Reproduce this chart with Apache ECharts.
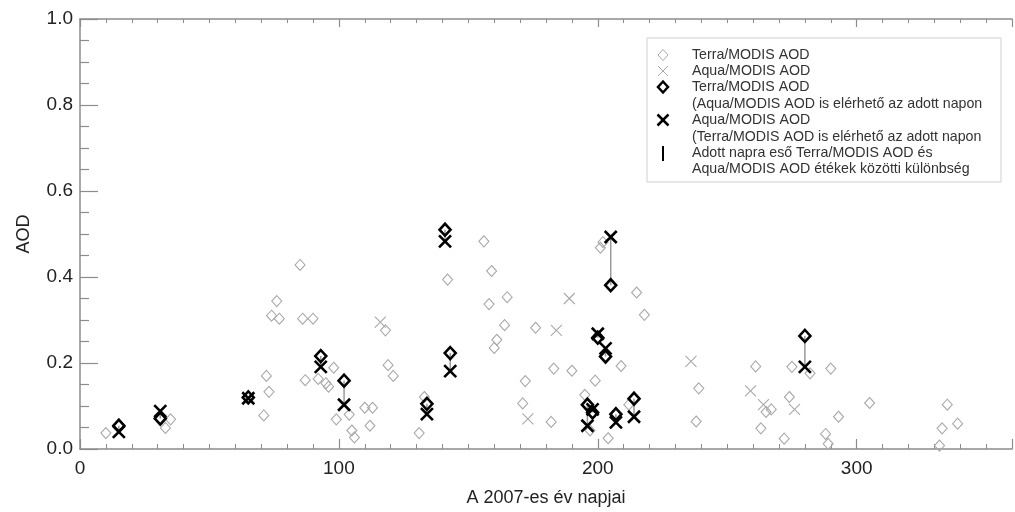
<!DOCTYPE html>
<html>
<head>
<meta charset="utf-8">
<script src="https://cdn.jsdelivr.net/npm/echarts@6/dist/echarts.min.js"></script>
<style>
  html, body { margin: 0; padding: 0; background: #fff; }
  #chart { width: 1015px; height: 512px; }
</style>
</head>
<body>
<div id="chart"></div>
<script>
// Day of year 2007 and AOD for days with only a Terra/MODIS retrieval
const terraOnlyDays = [10, 33, 35, 71, 73, 72, 74, 76, 77, 85, 86, 90, 87, 92, 95, 96, 98, 99, 104, 105, 106, 110, 113, 112, 118, 119, 121, 131, 133, 142, 156, 159, 158, 165, 164, 161, 160, 176, 172, 171, 183, 182, 190, 199, 195, 201, 202, 215, 218, 209, 204, 212, 197, 239, 238, 261, 265, 267, 263, 272, 274, 275, 282, 290, 293, 288, 289, 305, 335, 333, 339, 332];
const terraOnlyAod = [0.037, 0.049, 0.069, 0.078, 0.133, 0.170, 0.310, 0.344, 0.303, 0.428, 0.303, 0.303, 0.160, 0.163, 0.153, 0.145, 0.189, 0.069, 0.080, 0.043, 0.027, 0.096, 0.096, 0.054, 0.276, 0.195, 0.170, 0.037, 0.121, 0.394, 0.483, 0.414, 0.337, 0.353, 0.288, 0.254, 0.235, 0.282, 0.158, 0.106, 0.187, 0.063, 0.182, 0.159, 0.126, 0.468, 0.481, 0.364, 0.312, 0.193, 0.025, 0.103, 0.043, 0.141, 0.064, 0.192, 0.086, 0.092, 0.048, 0.024, 0.121, 0.191, 0.176, 0.187, 0.075, 0.035, 0.012, 0.107, 0.103, 0.048, 0.059, 0.008];

// Days with only an Aqua/MODIS retrieval
const aquaOnlyDays = [116, 173, 184, 189, 236, 259, 264, 276];
const aquaOnlyAod = [0.295, 0.070, 0.276, 0.350, 0.204, 0.135, 0.103, 0.092];

// Days on which both satellites retrieved AOD
const bothDays = [15, 31, 65, 93, 102, 134, 141, 143, 196, 198, 200, 203, 205, 207, 214, 280];
const bothTerraAod = [0.054, 0.071, 0.120, 0.216, 0.159, 0.105, 0.510, 0.223, 0.103, 0.085, 0.259, 0.215, 0.381, 0.081, 0.117, 0.263];
const bothAquaAod = [0.040, 0.088, 0.118, 0.191, 0.103, 0.081, 0.483, 0.181, 0.054, 0.092, 0.268, 0.234, 0.493, 0.062, 0.075, 0.191];

// Axis tick labels
const xTickLabels = ['0', '100', '200', '300'];
const yTickLabels = ['0.0', '0.2', '0.4', '0.6', '0.8', '1.0'];

// Legend lines
const legendLines = [
  'Terra/MODIS AOD',
  'Aqua/MODIS AOD',
  'Terra/MODIS AOD',
  '(Aqua/MODIS AOD is elérhető az adott napon',
  'Aqua/MODIS AOD',
  '(Terra/MODIS AOD is elérhető az adott napon',
  'Adott napra eső Terra/MODIS AOD és',
  'Aqua/MODIS AOD étékek közötti különbség'
];

const FONT = '"Liberation Sans", Arial, Helvetica, sans-serif';
const LIGHT = '#a9a9a9';
const DARK = '#000000';
const AXIS = '#8c8c8c';
const CROSS = 'path://M0,0L10,10M10,0L0,10';

const zip = (a, b) => a.map((v, i) => [v, b[i]]);

const chart = echarts.init(document.getElementById('chart'), null, { renderer: 'canvas' });

const xAxisBase = {
  type: 'value', min: 0, max: 360, interval: 100,
  axisLine: { show: true, lineStyle: { color: AXIS, width: 1.5 } },
  splitLine: { show: false }
};

// Legend box built from plain graphics
const legendX = 663, textX = 692;
const legendY = [55, 71, 87, 104, 120, 137, 153, 169];

function diamondIcon(cy, h, color, w) {
  return { type: 'polygon', z: 101,
    shape: { points: [[legendX, cy - h], [legendX + h - 0.5, cy], [legendX, cy + h], [legendX - h + 0.5, cy]] },
    style: { fill: 'none', stroke: color, lineWidth: w } };
}
function crossIcon(cy, r, color, w) {
  return [
    { type: 'line', z: 101, shape: { x1: legendX - r, y1: cy - r, x2: legendX + r, y2: cy + r }, style: { stroke: color, lineWidth: w } },
    { type: 'line', z: 101, shape: { x1: legendX + r, y1: cy - r, x2: legendX - r, y2: cy + r }, style: { stroke: color, lineWidth: w } }
  ];
}

const legendGraphics = [
  { type: 'rect', shape: { x: 647, y: 38, width: 354, height: 144 },
    style: { fill: '#fff', stroke: '#cfcfcf', lineWidth: 1 }, z: 100 },
  diamondIcon(legendY[0], 5.5, LIGHT, 1),
  ...crossIcon(legendY[1], 5, LIGHT, 1),
  diamondIcon(legendY[2], 5.5, DARK, 2.5),
  ...crossIcon(legendY[4], 5.5, DARK, 2.5),
  { type: 'line', z: 101, shape: { x1: legendX, y1: legendY[6] - 7, x2: legendX, y2: legendY[6] + 8 },
    style: { stroke: DARK, lineWidth: 2 } }
].concat(legendLines.map((t, i) => ({
  type: 'text', x: textX, y: legendY[i], z: 101,
  style: { text: t, fill: '#333', font: `14.2px ${FONT}`, verticalAlign: 'middle' }
})));

chart.setOption({
  animation: false,
  backgroundColor: '#fff',
  textStyle: { fontFamily: FONT },
  grid: { left: 80, right: -2, top: 19, bottom: 55, containLabel: false },
  xAxis: [
    Object.assign({}, xAxisBase, {
      position: 'bottom',
      name: 'A 2007-es év napjai', nameLocation: 'middle', nameGap: 40,
      nameTextStyle: { fontSize: 18, color: '#222', fontFamily: FONT },
      axisTick: { show: true, inside: true, length: 10, lineStyle: { color: AXIS, width: 1.2 } },
      minorTick: { show: true, splitNumber: 10, length: 5, lineStyle: { color: AXIS, width: 1 } },
      axisLabel: { margin: 10, fontSize: 19, color: '#222', fontFamily: FONT,
        formatter: v => xTickLabels[Math.round(v / 100)] ?? '' }
    }),
    Object.assign({}, xAxisBase, {
      position: 'top',
      axisTick: { show: true, inside: true, length: 8, lineStyle: { color: AXIS, width: 1.2 } },
      minorTick: { show: true, splitNumber: 10, length: 4, lineStyle: { color: AXIS, width: 1 } },
      axisLabel: { show: false }
    })
  ],
  yAxis: {
    type: 'value', min: 0, max: 1, interval: 0.2,
    name: 'AOD', nameLocation: 'middle', nameGap: 47, nameRotate: 90,
    nameTextStyle: { fontSize: 18, color: '#222', fontFamily: FONT },
    axisLine: { show: true, lineStyle: { color: AXIS, width: 1.5 } },
    axisTick: { show: true, inside: true, length: 18, lineStyle: { color: AXIS, width: 1.2 } },
    minorTick: { show: true, splitNumber: 4, length: 9, lineStyle: { color: AXIS, width: 1.2 } },
    splitLine: { show: false },
    axisLabel: { margin: 7, fontSize: 19, color: '#222', fontFamily: FONT,
      formatter: v => yTickLabels[Math.round(v / 0.2)] ?? '' }
  },
  graphic: legendGraphics,
  series: [
    {
      name: 'Terra/MODIS AOD', type: 'scatter',
      data: zip(terraOnlyDays, terraOnlyAod),
      symbol: 'diamond', symbolSize: [10, 11],
      itemStyle: { color: 'rgba(255,255,255,0)', borderColor: LIGHT, borderWidth: 1.1, opacity: 1 },
      z: 2
    },
    {
      name: 'Aqua/MODIS AOD', type: 'scatter',
      data: zip(aquaOnlyDays, aquaOnlyAod),
      symbol: CROSS, symbolSize: 11,
      itemStyle: { color: 'rgba(255,255,255,0)', borderColor: LIGHT, borderWidth: 1.1, opacity: 1 },
      z: 2
    },
    {
      name: 'különbség', type: 'custom',
      data: bothDays.map((d, i) => [d, bothTerraAod[i], bothAquaAod[i]]),
      renderItem: (params, api) => {
        const p1 = api.coord([api.value(0), api.value(1)]);
        const p2 = api.coord([api.value(0), api.value(2)]);
        return { type: 'line', shape: { x1: p1[0], y1: p1[1], x2: p2[0], y2: p2[1] },
          style: { stroke: '#9a9a9a', lineWidth: 1.5 } };
      },
      z: 3
    },
    {
      name: 'Terra/MODIS AOD (közös nap)', type: 'scatter',
      data: zip(bothDays, bothTerraAod),
      symbol: 'diamond', symbolSize: [11, 12],
      itemStyle: { color: 'rgba(255,255,255,0)', borderColor: DARK, borderWidth: 2.6, opacity: 1 },
      z: 4
    },
    {
      name: 'Aqua/MODIS AOD (közös nap)', type: 'scatter',
      data: zip(bothDays, bothAquaAod),
      symbol: CROSS, symbolSize: 12,
      itemStyle: { color: 'rgba(255,255,255,0)', borderColor: DARK, borderWidth: 2.6, opacity: 1 },
      z: 4
    }
  ]
});
</script>
</body>
</html>
